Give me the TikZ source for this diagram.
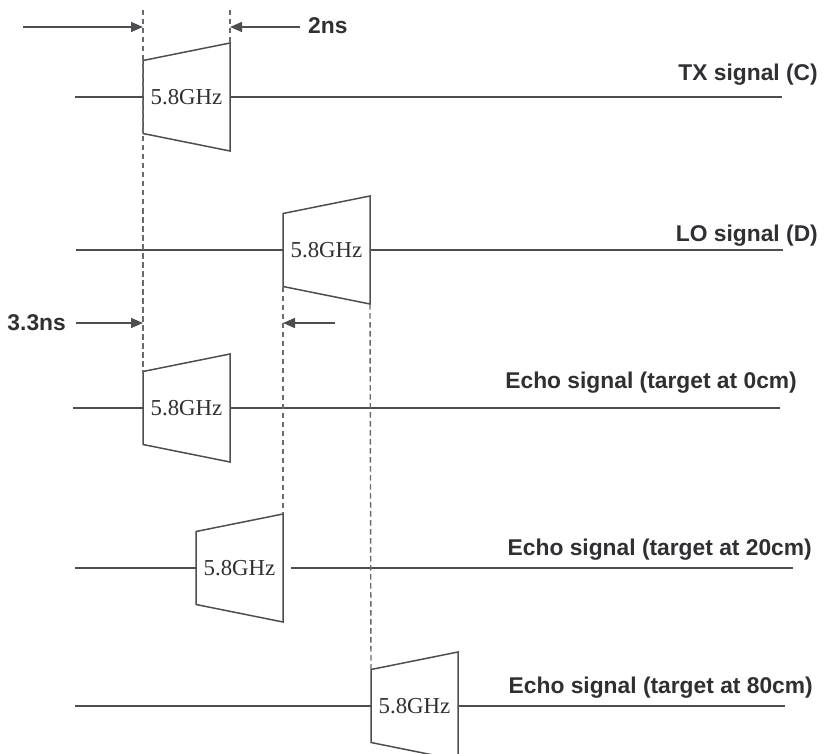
\documentclass[tikz,border=0pt]{standalone}
\usepackage{fontspec}
\setmainfont{Liberation Serif}
\setsansfont{Liberation Sans}
\usepackage{tikz}
\usetikzlibrary{arrows.meta,positioning,calc}
\definecolor{wavegray}{RGB}{78,78,82}
\definecolor{dashgray}{RGB}{105,105,110}
\definecolor{labelgray}{RGB}{48,48,52}
\newcommand{\trapez}[1]{\draw[wave] (#1.south west) -- (#1.north west) -- ([yshift=17.5pt]#1.north east) -- ([yshift=-17.5pt]#1.south east) -- cycle;}

\begin{document}
\begin{tikzpicture}[
    x=1pt, y=-1pt,
    pulse/.style={rectangle, minimum width=87pt, minimum height=73pt, inner sep=0pt, outer sep=0pt, font=\fontsize{22.8}{27}\selectfont, text=labelgray},
    wave/.style={draw=wavegray, line width=1.5pt},
    guide/.style={draw=dashgray, line width=1.4pt, dash pattern=on 5.5pt off 3.5pt},
    arrow/.style={-{Triangle[length=12pt,width=10pt]}, draw=wavegray, line width=1.5pt},
    sig/.style={font=\sffamily\bfseries\fontsize{22.8}{27}\selectfont, text=labelgray, inner sep=0pt}
]
\useasboundingbox (0,0) rectangle (824,754);

% Nodes
\node[pulse, anchor=west] (tx) at (143,97) {5.8GHz};
\node[pulse, anchor=west] (lo) at (283,250) {5.8GHz};
\node[pulse, anchor=west] (echo0) at (143,408) {5.8GHz};
\node[pulse, anchor=east] (echo20) at (283,568) {5.8GHz};
\node[pulse, anchor=west] (echo80) at (371,706) {5.8GHz};

% Pulse outlines
\trapez{tx}
\trapez{lo}
\trapez{echo0}
\trapez{echo20}
\trapez{echo80}

% Signal lines
\coordinate (txstart) at (75,97);
\coordinate (txend) at (782,97);
\coordinate (lostart) at (76,250);
\coordinate (loend) at (783,250);
\coordinate (e0start) at (73,408);
\coordinate (e0end) at (780,408);
\coordinate (e20start) at (75,568);
\coordinate (e20end) at (793,568);
\coordinate (e80start) at (75,706);
\coordinate (e80end) at (785,706);
\draw[wave] (txstart) -- (tx.west);
\draw[wave] (tx.east) -- (txend);
\draw[wave] (lostart) -- (lo.west);
\draw[wave] (lo.east) -- (loend);
\draw[wave] (e0start) -- (echo0.west);
\draw[wave] (echo0.east) -- (e0end);
\draw[wave] (e20start) -- (echo20.west);
\draw[wave] ([xshift=8pt]echo20.east) -- (e20end);
\draw[wave] (e80start) -- (echo80.west);
\draw[wave] (echo80.east) -- (e80end);

% Guides
\coordinate (g1) at (143,10);
\coordinate (g2) at (230,10);
\draw[guide] (g1) -- (echo0.north west);
\draw[guide] (g2) -- ([yshift=17.5pt]tx.north east);
\draw[guide] (lo.south west) -- ([yshift=17.5pt]echo20.north east);
\draw[guide] ([yshift=-17.5pt]lo.south east) -- (echo80.north west);

% Arrows
\coordinate (a1) at (23,27);
\coordinate (a2) at (300,27);
\coordinate (a3) at (76,323);
\coordinate (a4) at (335,323);
\draw[arrow] (a1) -- (a1 -| g1);
\draw[arrow] (a2) -- (a2 -| g2);
\draw[arrow] (a3) -- (a3 -| g1);
\draw[arrow] (a4) -- (a4 -| lo.west);

% Labels
\node[sig, anchor=west] (twons) at (308,26) {2ns};
\node[sig, anchor=east] (threens) at (66,323) {3.3ns};
\node[sig, anchor=east] (txlab) at (818,75) {TX signal (C)};
\node[sig, anchor=east] (lolab) at (818,236) {LO signal (D)};
\node[sig, anchor=east] (e0lab) at (797,383) {Echo signal (target at 0cm)};
\node[sig, anchor=east] (e20lab) at (812,550) {Echo signal (target at 20cm)};
\node[sig, anchor=east] (e80lab) at (813,688) {Echo signal (target at 80cm)};
\end{tikzpicture}
\end{document}
